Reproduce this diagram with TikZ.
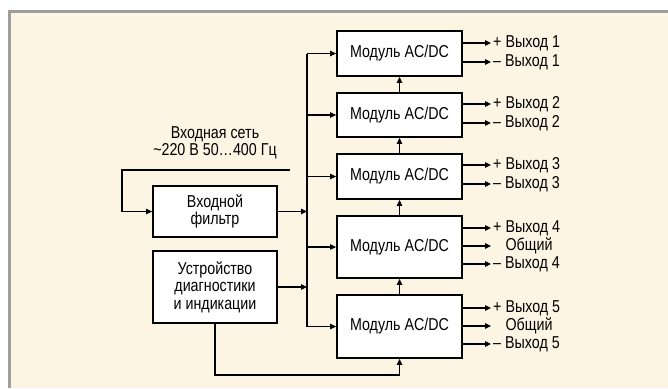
\documentclass[tikz,border=0pt]{standalone}
\usepackage{fontspec}
\setmainfont{Liberation Sans}[FakeStretch=0.83]
\usetikzlibrary{arrows.meta, positioning, calc}
\definecolor{panel}{HTML}{FDF5E4}
\definecolor{rim}{HTML}{9E9E9E}

\begin{document}
\begin{tikzpicture}[
    x=1pt, y=-1pt,
    font=\fontsize{17.2}{17.5}\selectfont,
    module/.style={rectangle, draw, line width=1.8pt, fill=white, minimum width=125pt, align=center, inner sep=2pt},
    arrow/.style={-{Triangle[length=6pt, width=5.5pt]}, line width=1.2pt},
    wire/.style={line width=1.2pt},
    outlbl/.style={anchor=west, inner sep=2pt}
]
\useasboundingbox (0,0) rectangle (668,388);
\fill[white] (0,0) rectangle (668,388);
\fill[panel] (11,13) rectangle (668,388);
\draw[rim, line width=3pt] (9.5,388) -- (9.5,11.5) -- (668,11.5);

% modules
\node[module, minimum height=45pt] (m1) at (399.5,53.5) {Модуль AC/DC};
\node[module, minimum height=44pt] (m2) at (399.5,115) {Модуль AC/DC};
\node[module, minimum height=45pt] (m3) at (399.5,176.5) {Модуль AC/DC};
\node[module, minimum height=62pt] (m4) at (399.5,247) {Модуль AC/DC};
\node[module, minimum height=63pt] (m5) at (399.5,326.5) {Модуль AC/DC};

\node[module, minimum width=124pt, minimum height=51pt] (filt) at (215,211.5) {Входной\\фильтр};
\node[module, minimum width=124pt, minimum height=72pt] (diag) at (215,287) {Устройство\\диагностики\\и индикации};

% outputs
\node[outlbl] (o1p) at (491,43) {+ Выход 1};
\node[outlbl] (o1m) at (491,62) {– Выход 1};
\node[outlbl] (o2p) at (491,104) {+ Выход 2};
\node[outlbl] (o2m) at (491,123) {– Выход 2};
\node[outlbl] (o3p) at (491,165) {+ Выход 3};
\node[outlbl] (o3m) at (491,184) {– Выход 3};
\node[outlbl] (o4p) at (491,228) {+ Выход 4};
\node[outlbl] (o4c) at (491,246) {\phantom{+ }Общий};
\node[outlbl] (o4m) at (491,264) {– Выход 4};
\node[outlbl] (o5p) at (491,308) {+ Выход 5};
\node[outlbl] (o5c) at (491,326) {\phantom{+ }Общий};
\node[outlbl] (o5m) at (491,344) {– Выход 5};

\foreach \m/\o in {m1/o1p, m1/o1m, m2/o2p, m2/o2m, m3/o3p, m3/o3m,
                   m4/o4p, m4/o4c, m4/o4m, m5/o5p, m5/o5c, m5/o5m}
    \draw[arrow] (\m.east |- \o) -- (\o.west);

% bus
\coordinate (bus) at (307,0);
\draw[wire] (bus |- m1) -- (bus |- m5);
\foreach \m in {m1, m2, m3, m4, m5}
    \draw[arrow] (bus |- \m) -- (\m.west);
\draw[arrow] (filt.east) -- (filt.east -| bus);
\draw[arrow] (diag.east) -- (diag.east -| bus);

\draw[arrow] (m2.north) -- (m1.south);
\draw[arrow] (m3.north) -- (m2.south);
\draw[arrow] (m4.north) -- (m3.south);
\draw[arrow] (m5.north) -- (m4.south);
\draw[arrow] (diag.south) |- ($(m5.south)+(0,16)$) -- (m5.south);

% mains input
\coordinate (mains) at (290,170);
\coordinate (inl) at (122,170);
\draw[arrow] (mains) -- (inl) |- (filt.west);
\node[align=center] (net) at (215,143) {Входная сеть\\\textasciitilde220 В 50…400 Гц};

\end{tikzpicture}
\end{document}
